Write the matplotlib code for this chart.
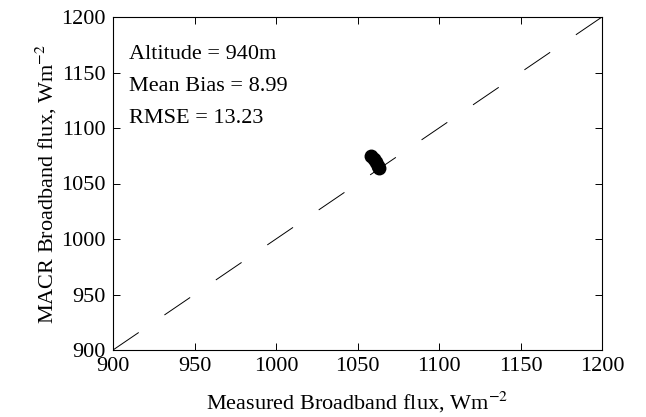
import matplotlib
matplotlib.use("Agg")
from matplotlib import pyplot as plt

# measured vs modelled broadband flux (W m^-2)
measured = [1058.5, 1060.0, 1061.5, 1062.5, 1063.0]
macr = [1074.5, 1072.0, 1069.0, 1066.0, 1064.0]
stats_lines = ["Altitude = 940m", "Mean Bias = 8.99", "RMSE = 13.23"]
lims = [900, 1200]
ticks = [900, 950, 1000, 1050, 1100, 1150, 1200]

plt.rcParams['font.family'] = ['Liberation Serif', 'DejaVu Serif']
plt.rcParams['mathtext.fontset'] = 'stix'

fig = plt.figure(figsize=(6.46, 4.17), dpi=100)
ax = fig.add_axes([113 / 646, 1 - 350 / 417, 489 / 646, 333 / 417])

# 1:1 reference line
ax.plot(lims, lims, color='k', lw=0.7, dashes=(32, 32))
ax.plot(measured, macr, 'o', color='k', markersize=9)

ax.set_xlim(lims)
ax.set_ylim(lims)
ax.set_xticks(ticks)
ax.set_yticks(ticks)
ax.tick_params(direction='in', top=True, right=True, labelsize=16,
               length=5, width=0.7, pad=5)
for s in ax.spines.values():
    s.set_linewidth(0.8)

ax.set_xlabel(r"Measured Broadband flux, Wm$^{-2}$", fontsize=16, labelpad=10)
ax.set_ylabel(r"MACR Broadband flux, Wm$^{-2}$", fontsize=16, labelpad=2)

for y, t in zip([0.874, 0.778, 0.682], stats_lines):
    ax.text(0.033, y, t, transform=ax.transAxes, fontsize=16, va='baseline')

fig.savefig("out.png", dpi=100)
